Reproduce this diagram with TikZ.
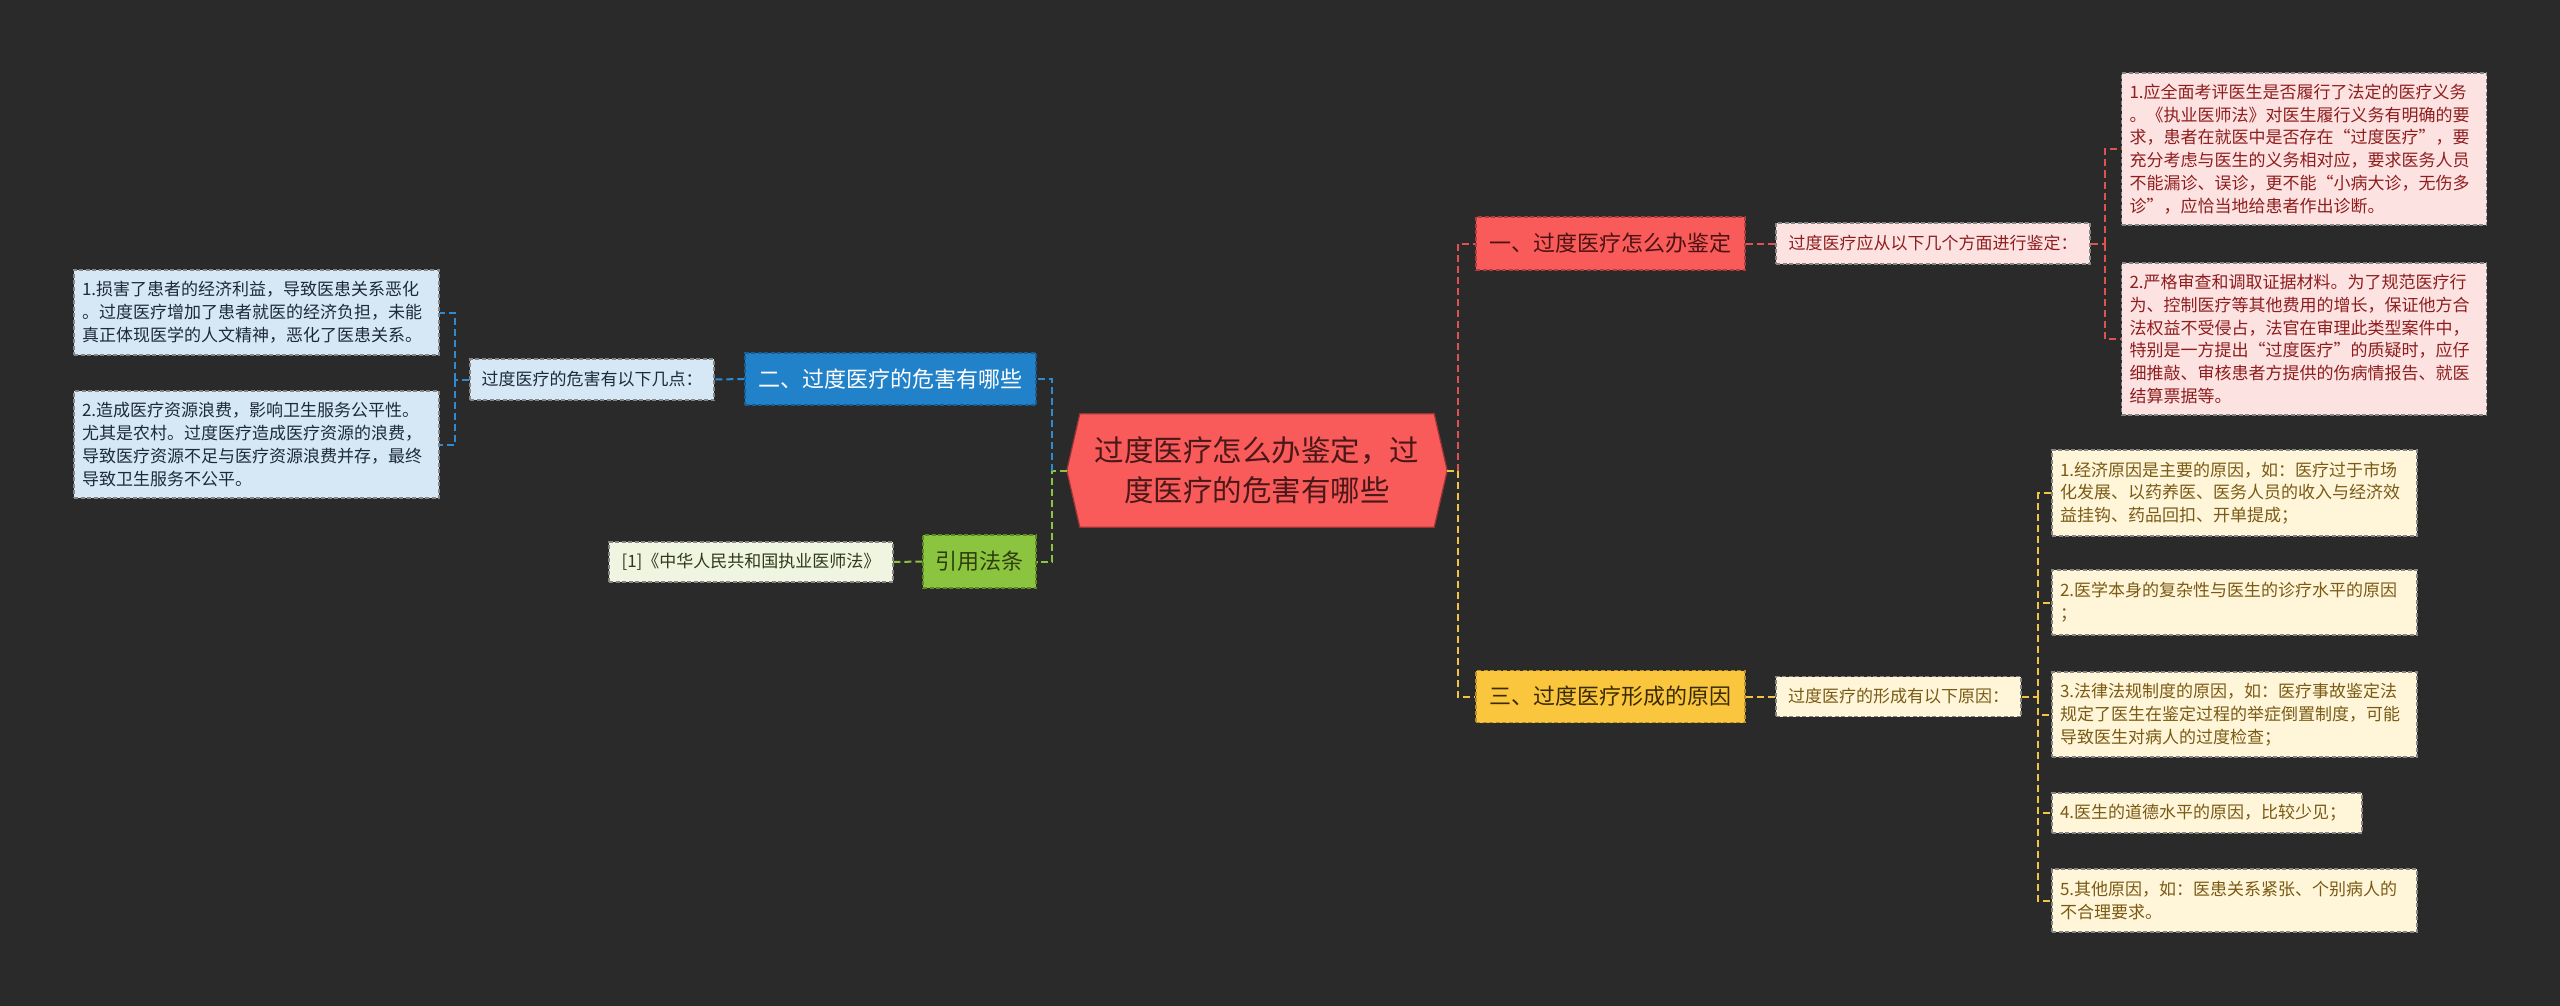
\documentclass[tikz,border=0pt]{standalone}
\usepackage{fontspec}
\setmainfont{Noto Sans CJK SC}
\usetikzlibrary{calc}
\definecolor{bgc}{HTML}{2A2A2A}
\definecolor{rootfill}{HTML}{F95B5B}
\definecolor{rootborder}{HTML}{9E3434}
\definecolor{roottext}{HTML}{4A1818}
\definecolor{rfill}{HTML}{F95B5B}
\definecolor{rborder}{HTML}{B23C3C}
\definecolor{rtext}{HTML}{4D1212}
\definecolor{rline}{HTML}{E0514F}
\definecolor{pfill}{HTML}{FDE2E2}
\definecolor{ptext}{HTML}{8E1E1E}
\definecolor{bfill}{HTML}{2181C9}
\definecolor{bborder}{HTML}{175E96}
\definecolor{bline}{HTML}{2E8BD2}
\definecolor{lbfill}{HTML}{D6E8F6}
\definecolor{lbtext}{HTML}{1E2B36}
\definecolor{yfill}{HTML}{F9C63D}
\definecolor{yborder}{HTML}{B8902A}
\definecolor{ytext}{HTML}{3B2B05}
\definecolor{yline}{HTML}{F2C444}
\definecolor{lyfill}{HTML}{FFF6DA}
\definecolor{lytext}{HTML}{7A5A14}
\definecolor{gfill}{HTML}{8BC53F}
\definecolor{gborder}{HTML}{5E8A25}
\definecolor{gtext}{HTML}{2F3D0F}
\definecolor{gline}{HTML}{8BC53F}
\definecolor{lgfill}{HTML}{F0F5E1}
\definecolor{lgtext}{HTML}{2E3A1A}
\definecolor{leafborder}{HTML}{858585}
\pgfdeclarelayer{bglayer}
\pgfdeclarelayer{shapelayer}
\pgfsetlayers{bglayer,shapelayer,main}
\begin{document}
\begin{tikzpicture}[x=1pt,y=-1pt,
  every node/.style={inner sep=0pt},
  boxline/.style={dash pattern=on 4pt off 2.5pt, line width=1.2pt},
  topicbox/.style={rectangle, boxline, font=\fontsize{22}{26}\selectfont, align=center, minimum height=53pt},
  subbox/.style={rectangle, boxline, draw=leafborder, font=\fontsize{17}{22.8}\selectfont, align=center, minimum height=41pt},
  leafbox/.style={rectangle, boxline, draw=leafborder, font=\fontsize{17}{22.8}\selectfont, align=left, inner xsep=8pt, text width=349pt},
  linkline/.style={line width=2pt, dash pattern=on 7pt off 4pt},
]
\begin{pgfonlayer}{bglayer}
\fill[bgc] (0,0) rectangle (2560,1006);
\end{pgfonlayer}
\useasboundingbox (0,0) rectangle (2560,1006);

% root
\node[rectangle, minimum width=354pt, minimum height=113pt, align=center, text=roottext,
      font=\fontsize{29.5}{40}\selectfont] (root) at (1257,470.5)
  {过度医疗怎么办鉴定，过\\度医疗的危害有哪些};
\coordinate (rootL) at ($(root.west)+(-13,0)$);
\coordinate (rootR) at ($(root.east)+(13,0)$);
\begin{pgfonlayer}{shapelayer}
\filldraw[fill=rootfill, draw=rootborder, line width=1.2pt]
  (root.north west) -- (root.north east) -- (rootR) -- (root.south east)
  -- (root.south west) -- (rootL) -- cycle;
\end{pgfonlayer}

% branch 1 (red)
\node[topicbox, fill=rfill, draw=rborder, text=rtext, minimum width=269pt] (n1) at (1610.5,243.5) {一、过度医疗怎么办鉴定};
\node[subbox, fill=pfill, text=ptext, minimum width=314pt] (s1) at (1933,243.5) {过度医疗应从以下几个方面进行鉴定：};
\node[leafbox, fill=pfill, text=ptext, minimum height=152pt] (p1) at (2304,149)
  {1.应全面考评医生是否履行了法定的医疗义务\\。《执业医师法》对医生履行义务有明确的要\\求，患者在就医中是否存在“过度医疗”，要\\充分考虑与医生的义务相对应，要求医务人员\\不能漏诊、误诊，更不能“小病大诊，无伤多\\诊”，应恰当地给患者作出诊断。};
\node[leafbox, fill=pfill, text=ptext, minimum height=152pt] (p2) at (2304,339)
  {2.严格审查和调取证据材料。为了规范医疗行\\为、控制医疗等其他费用的增长，保证他方合\\法权益不受侵占，法官在审理此类型案件中，\\特别是一方提出“过度医疗”的质疑时，应仔\\细推敲、审核患者方提供的伤病情报告、就医\\结算票据等。};

% branch 3 (yellow)
\node[topicbox, fill=yfill, draw=yborder, text=ytext, minimum width=269pt, minimum height=52pt] (n3) at (1610.5,696.5) {三、过度医疗形成的原因};
\node[subbox, fill=lyfill, text=lytext, minimum width=245pt, minimum height=40pt] (s3) at (1898.5,696.5) {过度医疗的形成有以下原因：};
\node[leafbox, fill=lyfill, text=lytext, minimum height=86pt] (y1) at (2234.5,493)
  {1.经济原因是主要的原因，如：医疗过于市场\\化发展、以药养医、医务人员的收入与经济效\\益挂钩、药品回扣、开单提成；};
\node[leafbox, fill=lyfill, text=lytext, minimum height=65pt] (y2) at (2234.5,602.5)
  {2.医学本身的复杂性与医生的诊疗水平的原因\\；};
\node[leafbox, fill=lyfill, text=lytext, minimum height=85pt] (y3) at (2234.5,714.5)
  {3.法律法规制度的原因，如：医疗事故鉴定法\\规定了医生在鉴定过程的举症倒置制度，可能\\导致医生对病人的过度检查；};
\node[leafbox, fill=lyfill, text=lytext, text width=294pt, minimum height=40pt] (y4) at (2207,813)
  {4.医生的道德水平的原因，比较少见；};
\node[leafbox, fill=lyfill, text=lytext, minimum height=63pt] (y5) at (2234.5,900.5)
  {5.其他原因，如：医患关系紧张、个别病人的\\不合理要求。};

% branch 2 (blue)
\node[topicbox, fill=bfill, draw=bborder, text=white, minimum width=291pt, minimum height=52pt] (n2) at (890.5,379) {二、过度医疗的危害有哪些};
\node[subbox, fill=lbfill, text=lbtext, minimum width=244pt] (s2) at (592,379.5) {过度医疗的危害有以下几点：};
\node[leafbox, fill=lbfill, text=lbtext, minimum height=85pt] (b1) at (256.5,312.5)
  {1.损害了患者的经济利益，导致医患关系恶化\\。过度医疗增加了患者就医的经济负担，未能\\真正体现医学的人文精神，恶化了医患关系。};
\node[leafbox, fill=lbfill, text=lbtext, minimum height=107pt] (b2) at (256.5,444.5)
  {2.造成医疗资源浪费，影响卫生服务公平性。\\尤其是农村。过度医疗造成医疗资源的浪费，\\导致医疗资源不足与医疗资源浪费并存，最终\\导致卫生服务不公平。};

% branch 4 (green)
\node[topicbox, fill=gfill, draw=gborder, text=gtext, minimum width=113pt] (n4) at (979.5,561.5) {引用法条};
\node[subbox, fill=lgfill, text=lgtext, minimum width=284pt, minimum height=40pt] (g1) at (751,562) {[1]《中华人民共和国执业医师法》};

% junctions
\coordinate (tl) at (1052,470.5);
\coordinate (tr) at (1458,470.5);
\coordinate (bx1) at (2105,243.5);
\coordinate (bx3) at (2038,696.5);
\coordinate (bx2) at (455,379.5);

% connectors
\draw[linkline, draw=yline] (rootR) -- (tr) |- (n3.west);
\draw[linkline, draw=rline] (tr) |- (n1.west);
\draw[linkline, draw=gline] (rootL) -- (tl) |- (n4.east);
\draw[linkline, draw=bline] (tl) |- (n2.east);

\draw[linkline, draw=rline] (n1.east) -- (s1.west);
\draw[linkline, draw=rline] (s1.east) -- (bx1);
\draw[linkline, draw=rline] (bx1) |- (p1.west);
\draw[linkline, draw=rline] (bx1) |- (p2.west);

\draw[linkline, draw=yline] (n3.east) -- (s3.west);
\draw[linkline, draw=yline] (s3.east) -- (bx3);
\draw[linkline, draw=yline] (bx3) |- (y1.west);
\draw[linkline, draw=yline] (bx3) |- (y2.west);
\draw[linkline, draw=yline] (bx3) |- (y3.west);
\draw[linkline, draw=yline] (bx3) |- (y4.west);
\draw[linkline, draw=yline] (bx3) |- (y5.west);

\draw[linkline, draw=bline] (n2.west) -- (s2.east);
\draw[linkline, draw=bline] (s2.west) -- (bx2);
\draw[linkline, draw=bline] (bx2) |- (b1.east);
\draw[linkline, draw=bline] (bx2) |- (b2.east);

\draw[linkline, draw=gline] (n4.west) -- (g1.east);
\end{tikzpicture}
\end{document}
